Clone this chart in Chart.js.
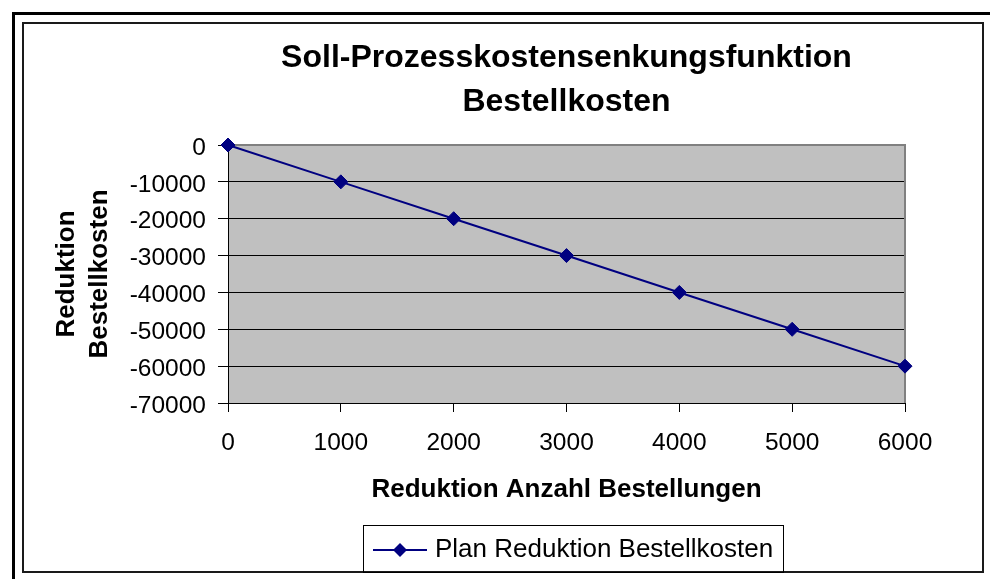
<!DOCTYPE html>
<html>
<head>
<meta charset="utf-8">
<title>Soll-Prozesskostensenkungsfunktion Bestellkosten</title>
<script src="https://cdn.jsdelivr.net/npm/chart.js@4.4.1/dist/chart.umd.min.js"></script>
<style>
  html, body { margin: 0; padding: 0; background: #fff; }
  canvas { display: block; }
</style>
</head>
<body>
<canvas id="kostenChart" width="990" height="579"></canvas>
<script>
const anzahlBestellungen = [0, 1000, 2000, 3000, 4000, 5000, 6000];
const reduktionKosten = [0, -10000, -20000, -30000, -40000, -50000, -60000];
const serieName = 'Plan Reduktion Bestellkosten';
const titelZeilen = ['Soll-Prozesskostensenkungsfunktion', 'Bestellkosten'];
const xTitel = 'Reduktion Anzahl Bestellungen';
const yTitel = ['Reduktion', 'Bestellkosten'];

const schrift = "'Liberation Sans', Arial, sans-serif";
const navy = '#000080';

// Rahmen + graue Zeichnungsfläche wie im Excel-Diagramm
const excelLook = {
    id: 'excelLook',
    beforeDraw(chart) {
        const ctx = chart.ctx;
        const a = chart.chartArea;
        ctx.save();
        ctx.fillStyle = '#fff';
        ctx.fillRect(0, 0, chart.width, chart.height);
        ctx.strokeStyle = '#000';
        ctx.lineWidth = 3;
        ctx.strokeRect(13.5, 13.5, chart.width + 20, chart.height + 20);
        ctx.lineWidth = 2;
        ctx.strokeStyle = '#1a1a1a';
        ctx.strokeRect(23, 23, 960, 549);
        ctx.fillStyle = '#c0c0c0';
        ctx.fillRect(a.left, a.top, a.right - a.left, a.bottom - a.top);
        ctx.restore();
    },
    beforeDatasetsDraw(chart) {
        const ctx = chart.ctx;
        const a = chart.chartArea;
        ctx.save();
        ctx.strokeStyle = '#808080';
        ctx.lineWidth = 2;
        ctx.beginPath();
        ctx.moveTo(a.left + 1, a.top);
        ctx.lineTo(a.right, a.top);
        ctx.lineTo(a.right, a.bottom);
        ctx.stroke();
        ctx.restore();
    },
    afterDraw(chart) {
        // Legende mit Linie + Raute
        const ctx = chart.ctx;
        const ds = chart.data.datasets[0];
        ctx.save();
        ctx.strokeStyle = '#000';
        ctx.lineWidth = 1;
        ctx.strokeRect(363.5, 525.5, 420, 47);
        ctx.strokeStyle = ds.borderColor;
        ctx.lineWidth = 2;
        ctx.beginPath();
        ctx.moveTo(373, 550);
        ctx.lineTo(427, 550);
        ctx.stroke();
        ctx.fillStyle = ds.pointBackgroundColor;
        ctx.beginPath();
        ctx.moveTo(400, 543);
        ctx.lineTo(407, 550);
        ctx.lineTo(400, 557);
        ctx.lineTo(393, 550);
        ctx.closePath();
        ctx.fill();
        ctx.fillStyle = '#000';
        ctx.font = '26px ' + schrift;
        ctx.textBaseline = 'middle';
        ctx.textAlign = 'left';
        ctx.fillText(ds.label, 435, 550);
        ctx.restore();
    }
};

const ctx = document.getElementById('kostenChart').getContext('2d');

new Chart(ctx, {
    type: 'line',
    data: {
        datasets: [{
            label: serieName,
            data: anzahlBestellungen.map((x, i) => ({ x: x, y: reduktionKosten[i] })),
            borderColor: navy,
            backgroundColor: navy,
            borderWidth: 2,
            pointStyle: 'rectRot',
            pointRadius: 7,
            pointBackgroundColor: navy,
            pointBorderColor: navy,
            pointBorderWidth: 1,
            tension: 0,
            clip: false
        }]
    },
    options: {
        responsive: false,
        animation: false,
        devicePixelRatio: 1,
        layout: {
            padding: { left: 24, top: 36, right: 85, bottom: 72 }
        },
        plugins: {
            legend: { display: false },
            tooltip: { enabled: false },
            title: {
                display: true,
                text: titelZeilen,
                fullSize: false,
                color: '#000',
                font: { family: schrift, size: 32, weight: 'bold', lineHeight: '44px' },
                padding: { top: 0, bottom: 21 }
            }
        },
        scales: {
            x: {
                type: 'linear',
                min: 0,
                max: 6000,
                ticks: {
                    stepSize: 1000,
                    color: '#000',
                    font: { family: schrift, size: 24.5 },
                    padding: 17,
                    maxRotation: 0,
                    autoSkip: false,
                    callback: v => String(v)
                },
                grid: {
                    drawOnChartArea: false,
                    drawTicks: true,
                    tickLength: 9,
                    color: '#000',
                    tickColor: '#000'
                },
                border: { display: true, color: '#000', width: 1 },
                title: {
                    display: true,
                    text: xTitel,
                    color: '#000',
                    font: { family: schrift, size: 26, weight: 'bold', lineHeight: '30px' },
                    padding: { top: 0, bottom: 2 }
                },
                afterFit(scale) { scale.height = 104; }
            },
            y: {
                type: 'linear',
                min: -70000,
                max: 0,
                ticks: {
                    stepSize: 10000,
                    color: '#000',
                    font: { family: schrift, size: 24.5 },
                    padding: 12,
                    labelOffset: 3,
                    callback: v => String(v)
                },
                grid: {
                    color: c => (c.tick && c.tick.value === 0) ? 'rgba(0,0,0,0)' : '#000',
                    lineWidth: 1,
                    drawTicks: true,
                    tickLength: 10,
                    tickColor: '#000'
                },
                border: { display: true, color: '#000', width: 1 },
                title: {
                    display: true,
                    text: yTitel,
                    color: '#000',
                    font: { family: schrift, size: 26, weight: 'bold', lineHeight: '33.5px' },
                    padding: { top: 25.75, bottom: 0 }
                },
                afterFit(scale) { scale.width = 204; }
            }
        }
    },
    plugins: [excelLook]
});
</script>
</body>
</html>
